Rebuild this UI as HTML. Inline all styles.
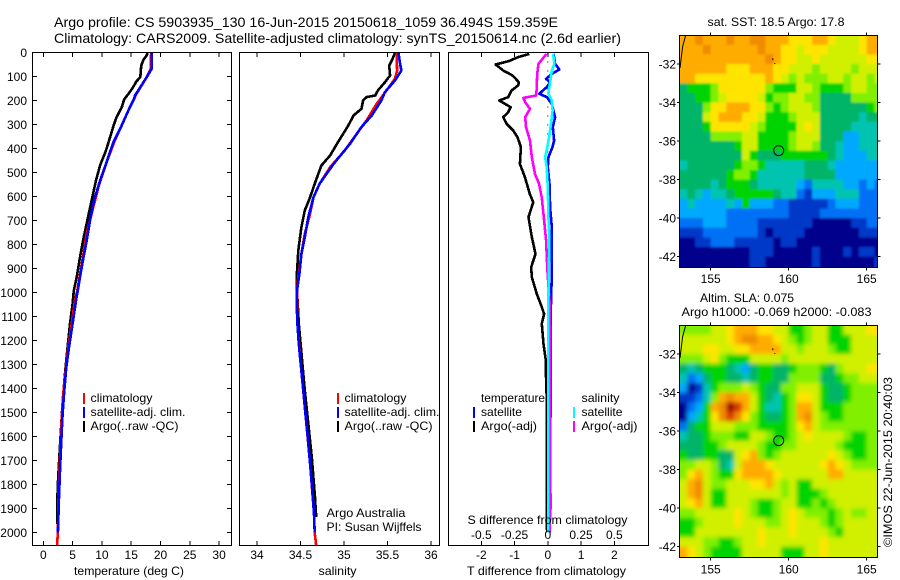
<!DOCTYPE html>
<html>
<head>
<meta charset="utf-8">
<style>
html,body{margin:0;padding:0;background:#fff;}
svg{display:block;}
text{font-family:"Liberation Sans",sans-serif;font-size:12px;fill:#000;}
.title{font-size:14px;}
.frame{fill:none;stroke:#000;stroke-width:1;shape-rendering:crispEdges;}
.bar{shape-rendering:crispEdges;}
</style>
</head>
<body>
<svg id="chart" xmlns="http://www.w3.org/2000/svg" width="900" height="580" viewBox="0 0 900 580">
  <rect width="900" height="580" fill="#fff"/>
  <defs>
    <clipPath id="clipSst"><rect x="680" y="35" width="197.5" height="232.5"/></clipPath>
    <clipPath id="clipSla"><rect x="680" y="325.5" width="197.5" height="231.5"/></clipPath>
    <filter id="smooth" x="-10%" y="-10%" width="120%" height="120%"><feGaussianBlur stdDeviation="2"/></filter>
    <filter id="smoothLight" x="-10%" y="-10%" width="120%" height="120%"><feGaussianBlur stdDeviation="1"/></filter>
  </defs>

  <text class="title" x="54" y="27" textLength="504" lengthAdjust="spacingAndGlyphs">Argo profile: CS 5903935_130 16-Jun-2015 20150618_1059 36.494S 159.359E</text>
  <text class="title" x="54" y="43" textLength="567" lengthAdjust="spacingAndGlyphs">Climatology: CARS2009. Satellite-adjusted climatology: synTS_20150614.nc (2.6d earlier)</text>

  <g id="maps">
    <g clip-path="url(#clipSst)"><g id="sstCells" filter="url(#smoothLight)"></g></g>
    <g clip-path="url(#clipSla)"><rect x="680" y="325" width="198" height="232" fill="#a0f000"/><g id="slaCells" filter="url(#smooth)"></g></g>
  </g>
  <g id="series"></g>
  <g id="ticks"></g>

  <rect class="frame" x="32.5" y="52.5" width="199" height="493"/>
  <rect class="frame" x="239.5" y="52.5" width="200" height="493"/>
  <rect class="frame" x="448.5" y="52.5" width="200" height="493"/>
  <rect class="frame" x="679.5" y="35.5" width="198" height="232"/>
  <rect class="frame" x="679.5" y="325.5" width="198" height="232"/>

  <!-- temperature legend -->
  <rect class="bar" x="83" y="393" width="2" height="11" fill="#f00"/>
  <rect class="bar" x="83" y="407" width="2" height="11" fill="#00f"/>
  <rect class="bar" x="83" y="421" width="2" height="11" fill="#000"/>
  <text x="90.5" y="402" textLength="62" lengthAdjust="spacingAndGlyphs">climatology</text>
  <text x="90.5" y="416" textLength="95" lengthAdjust="spacingAndGlyphs">satellite-adj. clim.</text>
  <text x="90.5" y="430" textLength="88" lengthAdjust="spacingAndGlyphs">Argo(..raw -QC)</text>

  <!-- salinity legend -->
  <rect class="bar" x="337" y="393" width="2" height="11" fill="#f00"/>
  <rect class="bar" x="337" y="407" width="2" height="11" fill="#00f"/>
  <rect class="bar" x="337" y="421" width="2" height="11" fill="#000"/>
  <text x="344.5" y="402" textLength="62" lengthAdjust="spacingAndGlyphs">climatology</text>
  <text x="344.5" y="416" textLength="95" lengthAdjust="spacingAndGlyphs">satellite-adj. clim.</text>
  <text x="344.5" y="430" textLength="88" lengthAdjust="spacingAndGlyphs">Argo(..raw -QC)</text>
  <text x="326.5" y="517" textLength="79" lengthAdjust="spacingAndGlyphs">Argo Australia</text>
  <text x="326.5" y="531" textLength="95" lengthAdjust="spacingAndGlyphs">PI: Susan Wijffels</text>

  <!-- difference legend -->
  <text x="481" y="402" textLength="64" lengthAdjust="spacingAndGlyphs">temperature</text>
  <text x="581.5" y="402" textLength="38" lengthAdjust="spacingAndGlyphs">salinity</text>
  <rect class="bar" x="473" y="407" width="2" height="11" fill="#00f"/>
  <rect class="bar" x="473" y="421" width="2" height="11" fill="#000"/>
  <rect class="bar" x="573" y="407" width="2" height="11" fill="#0ff"/>
  <rect class="bar" x="573" y="421" width="2" height="11" fill="#f0f"/>
  <text x="481" y="416" textLength="41" lengthAdjust="spacingAndGlyphs">satellite</text>
  <text x="481" y="430" textLength="56" lengthAdjust="spacingAndGlyphs">Argo(-adj)</text>
  <text x="581.5" y="416" textLength="41" lengthAdjust="spacingAndGlyphs">satellite</text>
  <text x="581.5" y="430" textLength="56" lengthAdjust="spacingAndGlyphs">Argo(-adj)</text>

  <!-- axis titles -->
  <text x="74" y="575" textLength="110" lengthAdjust="spacingAndGlyphs">temperature (deg C)</text>
  <text x="318.5" y="575" textLength="38" lengthAdjust="spacingAndGlyphs">salinity</text>
  <text x="467" y="575" textLength="159" lengthAdjust="spacingAndGlyphs">T difference from climatology</text>
  <text x="467.5" y="524" textLength="160" lengthAdjust="spacingAndGlyphs">S difference from climatology</text>

  <!-- map titles -->
  <text x="707.5" y="26" textLength="137" lengthAdjust="spacingAndGlyphs">sat. SST: 18.5 Argo: 17.8</text>
  <text x="700" y="302" textLength="94" lengthAdjust="spacingAndGlyphs">Altim. SLA: 0.075</text>
  <text x="681.5" y="316" textLength="190" lengthAdjust="spacingAndGlyphs">Argo h1000: -0.069 h2000: -0.083</text>
  <text transform="translate(892,547) rotate(-90)" x="0" y="0" textLength="170" lengthAdjust="spacingAndGlyphs">©IMOS 22-Jun-2015 20:40:03</text>
</svg>

<script>
// ---- depth ticks and x ticks ----
const depthTicks = [0,100,200,300,400,500,600,700,800,900,1000,1100,1200,1300,1400,1500,1600,1700,1800,1900,2000];
const tempTicks = [0,5,10,15,20,25,30];
const salTicks = [34,34.5,35,35.5,36];
const tDiffTicks = [-2,-1,0,1,2];
const sDiffTicks = [-0.5,-0.25,0,0.25,0.5];
const lonTicks = [155,160,165];
const latTicks = [-32,-34,-36,-38,-40,-42];

// ---- temperature panel ----
const argoTempDepth = [0,12,30,55,103,120,147,170,195,228,270,304,353,408,470,533,617,700,783,853,936,992,1047,1130,1228,1311,1395,1478,1575,1658,1770,1853,1964];
const argoTemp = [17.8,17.65,17.1,16.7,16.56,15.9,15.25,14.6,13.8,13.4,12.5,12.0,11.4,10.7,9.7,9.0,8.25,7.5,6.8,6.26,5.7,5.2,5.0,4.55,4.15,3.8,3.5,3.25,3.0,2.8,2.55,2.4,2.4];
const climTempDepth = [0,68,103,172,242,318,367,457,561,672,755,867,992,1034,1130,1228,1311,1422,1534,1686,1825,2000,2056];
const climTemp = [18.4,18.33,17.65,15.9,14.5,13.1,12.2,10.8,9.4,8.25,7.4,6.66,5.8,5.4,4.84,4.27,3.87,3.4,3.13,2.85,2.62,2.5,2.33];
const satTempDepth = [0,68,103,179,193,242,311,374,457,533,617,700,797,880,978,1034,1130,1228,1311,1408,1506,1617,1742,1853,2000];
const satTemp = [18.5,18.5,17.65,15.65,15.5,14.5,13.26,11.95,10.8,9.7,8.65,7.97,7.3,6.66,5.98,5.58,5.0,4.38,3.93,3.58,3.3,3.07,2.85,2.68,2.5];

// ---- salinity panel ----
const argoSalDepth = [0,26,54,96,124,158,179,186,200,235,262,304,374,429,471,540,603,658,728,825,936,992,1130,1408,1547,1686,1853,1936];
const argoSal = [35.586,35.56,35.52,35.53,35.47,35.39,35.36,35.26,35.22,35.2,35.11,35.05,34.93,34.84,34.74,34.67,34.61,34.55,34.51,34.475,34.456,34.46,34.48,34.55,34.59,34.63,34.667,34.68];
const climSalDepth = [0,75,110,158,214,283,339,408,478,547,603,672,755,840,936,992,1130,1311,1478,1714,1922,2000,2056];
const climSal = [35.605,35.61,35.585,35.49,35.375,35.26,35.145,35.01,34.84,34.72,34.65,34.61,34.55,34.51,34.475,34.46,34.464,34.506,34.55,34.61,34.655,34.663,34.68];
const satSalDepth = [0,47,75,117,165,200,262,311,380,464,547,603,686,769,840,922,992,1047,1130,1214,1311,1395,1478,1589,1714,1825,1922,2000];
const satSal = [35.625,35.645,35.66,35.585,35.47,35.43,35.32,35.2,35.07,34.88,34.72,34.65,34.59,34.55,34.51,34.487,34.46,34.456,34.464,34.48,34.506,34.53,34.55,34.58,34.61,34.636,34.655,34.663];

// ---- difference panel ----
const tArgoDiffDepth = [6,19,36,50,75,96,124,137,158,186,200,228,249,269,297,325,353,394,464,519,589,624,686,769,839,894,936,1006,1061,1089,1130,1214,1283,1366,1450,1686,1922,2000];
const tArgoDiff = [-0.555,-0.89,-1.17,-1.57,-1.34,-1.06,-0.87,-0.89,-1.09,-1.19,-1.46,-1.12,-1.19,-1.34,-1.24,-1.04,-0.91,-0.81,-0.84,-0.69,-0.54,-0.44,-0.58,-0.48,-0.37,-0.5,-0.48,-0.33,-0.18,-0.11,-0.18,-0.13,-0.06,-0.05,-0.03,-0.03,-0.03,-0.02];
const tSatDiffDepth = [6,47,71,89,110,124,144,172,186,214,269,311,367,394,436,478,547,644,728,922,1075,1500,2000];
const tSatDiff = [0.17,0.22,0.35,0.12,-0.05,0.07,-0.03,-0.26,-0.03,0.12,0.22,0.15,0.19,0.14,0.02,0,0.05,0.07,0.12,0.12,0.09,0.08,0.05];
const sArgoDiffDepth = [6,47,89,158,179,189,207,235,269,311,367,436,506,547,603,686,783,908,1061,1900,2000];
const sArgoDiff = [-0.01,-0.07,-0.08,-0.084,-0.089,-0.184,-0.17,-0.134,-0.17,-0.164,-0.134,-0.12,-0.096,-0.066,-0.046,-0.03,-0.013,-0.003,0.016,0.02,0.012];
const sSatDiffDepth = [6,47,75,130,172,200,242,297,353,394,436,478,561,672,783,922,1075,2000];
const sSatDiff = [0.04,0.05,0.03,0.016,0.004,0.03,0.036,0.024,0.01,-0.004,-0.02,-0.008,0,0.004,0.012,0.007,0.004,0.004];

// ---- map values: 0.5 degree grid, top row first, colour level per cell ----
const mapLonStart = 153;
const mapLatStart = -30.5;
const profileLon = 159.359;
const profileLat = -36.494;
const coastLon = [153.4,153.2,153.03];
const coastLat = [-30.5,-31.1,-32.2];
const sstRows = [
[10,10,11,10,10,10,11,10,10,11,11,10,10,10,9,9,9,10,10,9,8,8,8,9,10,10],
[10,10,10,11,10,10,10,10,10,10,11,10,10,9,9,8,9,9,9,8,8,8,8,9,10,10],
[10,10,10,10,10,10,10,10,10,10,10,11,10,9,9,8,8,9,8,8,8,8,8,8,9,9],
[10,10,10,10,10,10,9,9,9,10,10,10,9,9,8,8,8,7,8,8,8,8,7,8,8,8],
[10,10,9,9,9,9,9,9,9,9,9,10,9,8,7,8,7,7,7,8,8,7,8,8,7,8],
[5,6,6,6,7,9,9,9,9,9,9,7,6,6,6,8,8,7,6,6,6,7,8,8,7,7],
[5,5,6,6,7,8,9,9,9,9,8,6,7,7,8,8,7,7,5,5,5,5,7,7,7,7],
[5,5,5,7,9,9,10,10,10,9,9,7,6,7,8,8,8,7,5,5,5,5,5,5,6,7],
[5,5,5,8,9,10,10,10,9,9,8,6,6,6,7,8,8,8,5,5,5,5,5,4,5,5],
[5,5,5,6,9,9,9,9,9,8,7,6,6,6,6,8,9,8,5,5,5,5,4,4,4,4],
[5,5,5,5,7,7,7,7,8,8,6,6,6,6,7,8,8,8,5,5,5,3,3,4,4,4],
[5,5,5,5,5,5,5,6,8,8,6,6,6,6,7,8,8,7,5,5,4,3,3,4,4,4],
[5,5,5,5,5,5,5,5,8,6,5,5,5,6,6,6,6,6,6,5,4,3,3,3,4,4],
[4,5,5,5,5,5,5,6,7,7,6,4,4,4,4,4,5,5,5,4,3,3,3,3,3,3],
[5,5,5,5,5,5,6,7,7,6,4,4,4,4,4,4,5,5,5,5,3,3,3,3,3,3],
[5,5,5,5,4,5,6,6,6,5,4,4,4,4,4,3,2,4,4,4,4,3,3,2,3,2],
[4,5,4,3,4,4,5,6,6,6,6,6,5,4,4,2,1,3,3,3,4,4,4,2,2,2],
[3,4,3,3,3,3,4,3,6,3,3,3,2,2,1,1,1,1,1,2,3,3,3,2,2,2],
[3,3,3,3,3,3,2,2,2,2,2,2,2,2,1,1,1,1,2,2,2,2,2,2,2,2],
[2,2,2,3,3,3,2,2,2,2,1,1,1,1,1,1,1,0,0,0,0,0,1,1,2,2],
[1,1,1,2,2,2,2,2,2,2,1,0,1,1,1,1,0,0,0,0,0,0,0,1,1,1],
[0,0,1,1,2,2,2,1,1,1,1,1,0,1,1,0,0,0,0,0,0,0,0,0,0,0],
[0,0,0,0,0,0,0,0,0,1,1,1,0,0,0,0,0,1,0,0,0,1,0,1,1,0],
[0,0,0,0,0,0,0,0,0,1,1,0,0,0,0,0,0,1,0,0,0,0,0,0,0,1]
];
const slaRows = [
[7,7,7,7,8,8,9,10,10,10,9,9,8,8,6,6,7,8,8,6,6,8,8,8,9,9],
[8,8,8,8,8,8,9,10,11,11,10,10,9,8,7,6,7,8,8,6,6,6,8,8,8,8],
[8,8,8,9,9,8,8,9,9,10,10,10,10,8,8,7,8,8,8,7,6,6,8,8,8,8],
[7,7,7,8,9,7,6,6,6,8,8,8,8,7,8,8,8,8,8,8,8,8,8,8,8,8],
[5,4,5,6,6,6,5,4,3,5,6,6,5,5,6,7,7,7,6,5,7,8,8,8,9,9],
[4,2,3,5,6,6,5,5,4,5,6,6,5,5,7,7,7,7,5,5,6,7,7,8,8,8],
[3,0,1,4,6,7,7,7,8,7,6,5,5,7,7,8,8,8,6,5,5,6,7,7,7,7],
[1,1,2,4,7,10,11,10,10,8,6,5,4,6,7,9,9,8,6,5,5,6,7,7,7,7],
[0,2,3,6,10,11,13,12,10,8,6,4,4,6,7,10,10,8,6,6,6,7,7,7,7,7],
[0,3,4,6,9,11,12,11,9,7,6,5,5,6,7,10,11,8,7,6,6,7,7,7,7,7],
[2,5,6,6,8,8,8,7,7,7,6,6,6,6,7,9,10,8,7,7,7,7,7,7,7,7],
[4,5,5,6,7,7,7,6,6,8,8,7,6,6,7,8,9,8,8,8,8,7,6,6,7,7],
[5,5,5,6,6,7,8,8,8,8,7,6,6,7,7,8,8,8,8,8,7,6,6,6,7,7],
[6,5,5,6,6,5,5,8,9,10,7,6,7,8,8,8,8,8,8,9,8,7,6,6,7,7],
[7,7,8,8,7,5,4,8,10,10,10,9,8,8,8,8,8,8,9,10,9,8,7,7,7,7],
[7,9,10,8,7,6,6,9,10,10,10,10,9,8,8,8,8,8,8,10,10,8,8,8,8,8],
[8,10,11,8,7,7,8,8,8,9,9,10,8,7,8,6,6,8,8,8,8,8,8,8,8,8],
[8,10,11,8,6,6,8,8,8,8,8,8,8,7,8,6,6,6,7,8,8,8,8,8,8,8],
[8,9,10,8,6,6,8,8,8,7,6,6,7,8,8,6,6,7,6,7,8,8,8,8,8,8],
[7,7,8,8,8,8,8,9,8,7,6,6,7,8,9,8,7,7,7,6,7,8,7,7,8,8],
[6,6,7,8,8,8,8,9,8,8,8,7,7,8,9,8,8,8,7,6,7,8,8,8,8,8],
[6,6,8,8,8,8,8,8,8,8,9,8,8,8,9,8,8,8,8,7,6,8,8,8,8,8],
[8,8,8,7,7,6,6,7,8,8,9,8,8,8,8,8,8,8,9,8,8,8,8,8,8,8],
[10,9,8,7,6,6,6,6,8,8,8,8,8,6,6,6,8,8,9,8,8,8,8,8,8,8]
];
const levelColors = ["#00008c","#0038c8","#0070f4","#00a8ff","#00c4b0","#00b468","#00d400","#80f000","#d0f000","#ffe400","#ffac00","#f08c00","#d83c00","#a00c00"];

// ---- axis functions ----
const svg = document.getElementById('chart');
const NS = 'http://www.w3.org/2000/svg';
const yDepth = d => 52.5 + d * 0.24;
const xTemp = t => 43.3 + t * 5.86;
const xSal = s => 257 + (s - 34) * 87;
const xTDiff = t => 547.8 + t * 33.25;
const xSDiff = s => 547.8 + s * 133;
const xLon = lon => 710.7 + (lon - 155) * 15.6;
const ySst = lat => 64 + (-32 - lat) * 19.27;
const ySla = lat => 354 + (-32 - lat) * 19.27;

function make(parent, tag, attrs, name) {
  const el = document.createElementNS(NS, tag);
  for (const k in attrs) el.setAttribute(k, attrs[k]);
  
  
  parent.appendChild(el);
  return el;
}
function label(parent, x, y, str, anchor, name) {
  const t = make(parent, 'text', {x: x, y: y, 'text-anchor': anchor}, name);
  t.textContent = str;
}
function drawLine(parent, depths, values, xFn, color, width, name) {
  const pts = values.map((v, i) => xFn(v).toFixed(1) + ',' + yDepth(depths[i]).toFixed(1)).join(' ');
  make(parent, 'polyline', {points: pts, fill: 'none', stroke: color, 'stroke-width': width, 'shape-rendering': 'crispEdges', 'stroke-linejoin': 'round'}, name);
}
function tick(parent, x1, y1, x2, y2, name) {
  make(parent, 'line', {x1: x1, y1: y1, x2: x2, y2: y2, stroke: '#000', 'stroke-width': 1, 'shape-rendering': 'crispEdges'}, name);
}

// ---- maps ----
function drawMap(rows, parent, yFn, name) {
  rows.forEach((row, r) => {
    row.forEach((v, c) => {
      let x0 = xLon(mapLonStart + c * 0.5), x1 = xLon(mapLonStart + (c + 1) * 0.5);
      let y0 = yFn(mapLatStart - r * 0.5), y1 = yFn(mapLatStart - (r + 1) * 0.5);
      if (c === 0) x0 -= 12;
      if (c === row.length - 1) x1 += 12;
      if (r === 0) y0 -= 12;
      if (r === rows.length - 1) y1 += 12;
      make(parent, 'rect', {x: x0, y: y0, width: x1 - x0 + 0.4, height: y1 - y0 + 0.4, fill: levelColors[v]}, name);
    });
  });
}
drawMap(sstRows, document.getElementById('sstCells'), ySst, 'sst-cell');
drawMap(slaRows, document.getElementById('slaCells'), ySla, 'sla-cell');

const mapsG = document.getElementById('maps');
[[ySst, 'sst'], [ySla, 'sla']].forEach(([yFn, prefix]) => {
  const coast = coastLon.map((lon, i) => xLon(lon).toFixed(1) + ',' + yFn(coastLat[i]).toFixed(1)).join(' ');
  make(mapsG, 'polyline', {points: coast, fill: 'none', stroke: '#000', 'stroke-width': 1}, prefix + '-coastline');
  make(mapsG, 'rect', {x: xLon(158.95), y: yFn(-31.7), width: 1, height: 2, fill: '#000'}, prefix + '-island');
  make(mapsG, 'rect', {x: xLon(159.08), y: yFn(-31.95), width: 1, height: 1, fill: '#000'}, prefix + '-island');
  make(mapsG, 'circle', {cx: xLon(profileLon), cy: yFn(profileLat), r: 5, fill: 'none', stroke: '#000', 'stroke-width': 1}, prefix + '-profile-marker');
});

// ---- profile lines ----
const seriesG = document.getElementById('series');
drawLine(seriesG, argoTempDepth, argoTemp, xTemp, '#000', 2.6, 'argo-temperature-line');
drawLine(seriesG, climTempDepth, climTemp, xTemp, '#f00', 2.6, 'climatology-temperature-line');
drawLine(seriesG, satTempDepth, satTemp, xTemp, '#00f', 2.6, 'satellite-temperature-line');

drawLine(seriesG, argoSalDepth, argoSal, xSal, '#000', 2.6, 'argo-salinity-line');
drawLine(seriesG, climSalDepth, climSal, xSal, '#f00', 2.6, 'climatology-salinity-line');
drawLine(seriesG, satSalDepth, satSal, xSal, '#00f', 2.6, 'satellite-salinity-line');

make(seriesG, 'line', {x1: xTDiff(0), y1: yDepth(0), x2: xTDiff(0), y2: yDepth(600), stroke: '#000', 'stroke-width': 1, 'stroke-dasharray': '1 8'}, 'zero-reference-line');
drawLine(seriesG, tArgoDiffDepth, tArgoDiff, xTDiff, '#000', 2.6, 'argo-t-difference-line');
drawLine(seriesG, tSatDiffDepth, tSatDiff, xTDiff, '#00f', 2.6, 'satellite-t-difference-line');
drawLine(seriesG, sArgoDiffDepth, sArgoDiff, xSDiff, '#f0f', 2.6, 'argo-s-difference-line');
drawLine(seriesG, sSatDiffDepth, sSatDiff, xSDiff, '#0ff', 2.6, 'satellite-s-difference-line');

// ---- ticks and tick labels ----
const ticksG = document.getElementById('ticks');
depthTicks.forEach(d => {
  const y = yDepth(d);
  tick(ticksG, 32.5, y, 37, y, 'depth-tick');
  tick(ticksG, 227, y, 231.5, y, 'depth-tick');
  label(ticksG, 27, y + 4.5, String(d), 'end', 'depth-tick-label');
});
function xAxis(values, xFn, labelY, name, fmt) {
  values.forEach(v => {
    const x = xFn(v);
    tick(ticksG, x, 52.5, x, 57, name + '-tick');
    tick(ticksG, x, 541, x, 545.5, name + '-tick');
    label(ticksG, x, labelY, fmt(v), 'middle', name + '-tick-label');
  });
}
xAxis(tempTicks, xTemp, 559, 'temperature', String);
xAxis(salTicks, xSal, 559, 'salinity', String);
xAxis(tDiffTicks, xTDiff, 559, 't-difference', String);
sDiffTicks.forEach(v => {
  label(ticksG, xSDiff(v), 539, String(v), 'middle', 's-difference-tick-label');
});
[[ySst, 35.5, 267.5, 283, 'sst'], [ySla, 325.5, 557.5, 573.5, 'sla']].forEach(([yFn, top, bottom, lblY, prefix]) => {
  lonTicks.forEach(lon => {
    const x = xLon(lon);
    tick(ticksG, x, top - 3, x, top, prefix + '-longitude-tick');
    tick(ticksG, x, bottom, x, bottom + 3, prefix + '-longitude-tick');
    label(ticksG, x, lblY, String(lon), 'middle', prefix + '-longitude-label');
  });
  latTicks.forEach(lat => {
    const y = yFn(lat);
    tick(ticksG, 677, y, 680, y, prefix + '-latitude-tick');
    tick(ticksG, 877.5, y, 880.5, y, prefix + '-latitude-tick');
    label(ticksG, 676, y + 4.5, String(lat), 'end', prefix + '-latitude-label');
  });
});
</script>
</body>
</html>
